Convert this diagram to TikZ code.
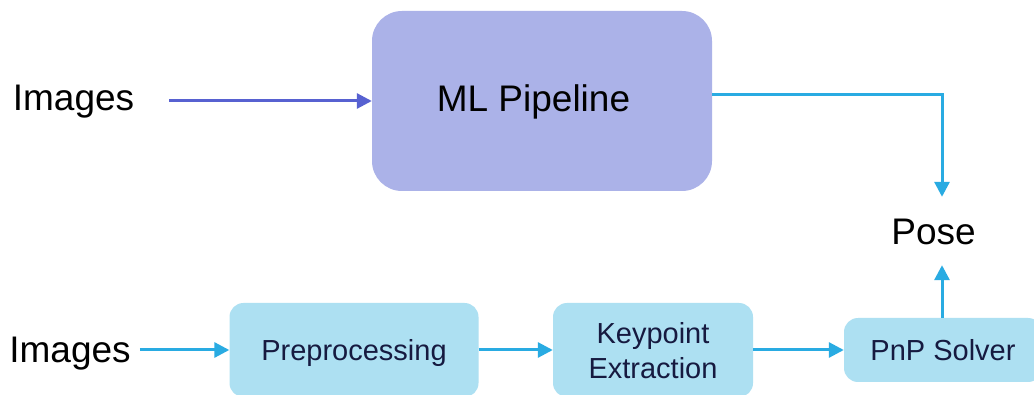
\documentclass[tikz,border=0pt]{standalone}
\usepackage{fontspec}
\setmainfont{Liberation Sans}
\usetikzlibrary{arrows.meta}
\definecolor{mlfill}{HTML}{ABB2E8}
\definecolor{boxfill}{HTML}{ADE0F2}
\definecolor{arrblue}{HTML}{29ABE2}
\definecolor{arrviolet}{HTML}{5761D1}
\definecolor{boxtext}{HTML}{161A40}
\tikzset{
  bigtext/.style={font=\fontsize{37}{40}\selectfont, text=black, inner sep=0pt},
  mlbox/.style={fill=mlfill, draw=none, rounded corners=30pt, minimum width=340pt, minimum height=180pt},
  stepbox/.style={fill=boxfill, draw=none, rounded corners=14pt, minimum height=94pt, font=\fontsize{29}{35}\selectfont, text=boxtext, align=center, inner sep=0pt, text depth=0pt},
  conn/.style={line width=3pt, draw=arrblue, -{Triangle[length=15pt,width=15pt]}},
  connv/.style={line width=3pt, draw=arrviolet, -{Triangle[length=15pt,width=15pt]}}
}
\begin{document}
\begin{tikzpicture}[x=1pt,y=-1pt]
\clip (0,0) rectangle (1034,395);
\fill[white] (0,0) rectangle (1034,395);
\node[mlbox] (ml) at (542,101) {};
\node[bigtext] (mltext) at (533.5,102) {ML Pipeline};
\node[bigtext] (img1) at (73.5,102) {Images};
\node[bigtext, minimum height=66pt] (pose) at (933.5,232) {Pose};
\node[stepbox, minimum width=249pt] (pre) at (354,350) {Preprocessing};
\node[stepbox, minimum width=200pt] (key) at (653,350) {Keypoint\\Extraction};
\node[stepbox, minimum width=198pt, minimum height=64pt] (pnp) at (943,350) {PnP Solver};
\node[bigtext] (img2) at (70,354) {Images};
\draw[connv] ([xshift=35pt]img1.east |- ml.west) -- (ml.west);
\draw[conn] ([yshift=6pt]ml.east) -| ([xshift=8.5pt,yshift=2pt]pose.north);
\draw[conn] ([xshift=8.5pt]pnp.north -| pose.south) -- ([xshift=8.5pt]pose.south);
\draw[conn] ([xshift=9pt]img2.east |- pre.west) -- (pre.west);
\draw[conn] (pre.east) -- (key.west);
\draw[conn] (key.east) -- (pnp.west);
\end{tikzpicture}
\end{document}
